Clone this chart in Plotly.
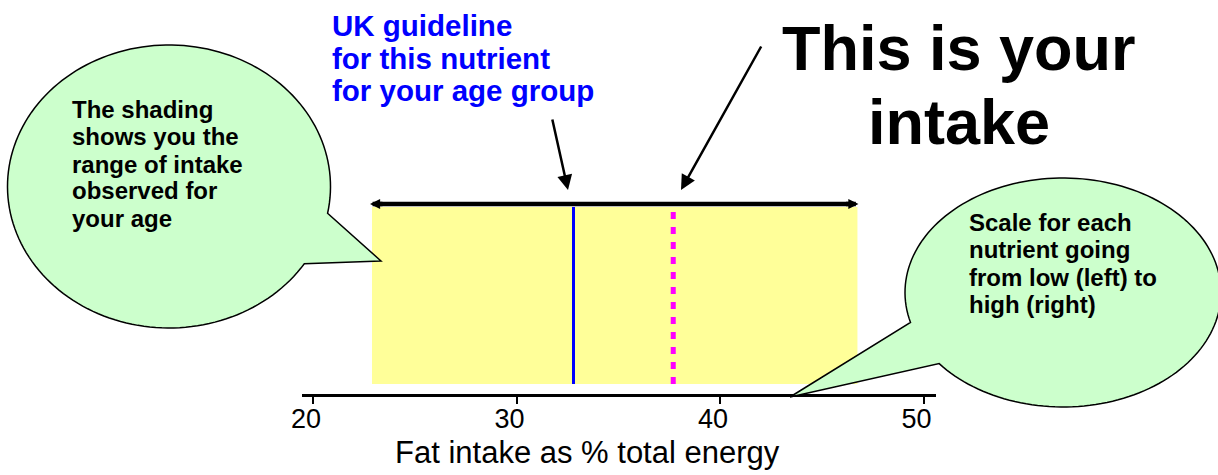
import numpy as np
import plotly.graph_objects as go

# ---------------- data ----------------
x_ticks = [20, 30, 40, 50]
tick_labels = ["20", "30", "40", "50"]
x_range = [19.46, 50.61]
observed_range = [22.9, 46.75]     # shaded range of intake observed
guideline = 32.8                   # UK guideline
intake = 37.7                      # your intake
x_title = "Fat intake as % total energy"
guideline_lines = ["UK guideline", "for this nutrient", "for your age group"]
intake_lines = ["This is your", "intake"]
left_bubble_lines = ["The shading", "shows you the", "range of intake", "observed for", "your age"]
right_bubble_lines = ["Scale for each", "nutrient going", "from low (left) to", "high (right)"]

# ---------------- layout geometry (pixels) ----------------
W, H = 1218, 475
ML, MR, MT, MB = 302, 282, 0, 81
PW = W - ML - MR
PH = H - MT - MB

def px(xp):
    return (xp - ML) / PW

def py(yp):
    return (H - MB - yp) / PH

def yd(yp):
    return (H - MB - yp)

FONT = "Liberation Sans, Arial, sans-serif"

band_bottom, band_top, arrow_y = yd(384), yd(207), yd(204)

fig = go.Figure()

# guideline line
fig.add_trace(go.Scatter(x=[guideline, guideline], y=[band_bottom, band_top],
                         mode="lines", line=dict(color="#0000FF", width=3),
                         hoverinfo="skip", showlegend=False))
# intake line
fig.add_trace(go.Scatter(x=[intake, intake], y=[band_bottom, band_top],
                         mode="lines", line=dict(color="#FF00FF", width=5, dash="7px,8px"),
                         hoverinfo="skip", showlegend=False))

shapes = [dict(type="rect", xref="x", yref="y", x0=observed_range[0], x1=observed_range[1],
               y0=band_bottom, y1=band_top, fillcolor="#FFFF99", line=dict(width=0), layer="below"),
          # shaft of the double-headed range arrow
          dict(type="line", xref="x", yref="y", x0=observed_range[0] + 0.3, x1=observed_range[1] - 0.3,
               y0=arrow_y, y1=arrow_y, line=dict(color="black", width=4.5), layer="above")]


def bubble(cx, cy, rx, ry, a, b, tip, n=160):
    ta = np.arctan2((a[1] - cy) / ry, (a[0] - cx) / rx)
    tb = np.arctan2((b[1] - cy) / ry, (b[0] - cx) / rx)
    if tb < ta:
        tb += 2 * np.pi
    t = np.linspace(tb, ta + 2 * np.pi, n)
    xs = cx + rx * np.cos(t)
    ys = cy + ry * np.sin(t)
    pts = [(tip[0], tip[1])] + list(zip(xs, ys))
    return "M" + " L".join(f"{px(xx):.5f},{py(yy):.5f}" for xx, yy in pts) + " Z"


def bubble2(cx, cy, rx, ry, a, b, tip, n=160):
    ta = np.arctan2((a[1] - cy) / ry, (a[0] - cx) / rx)
    tb = np.arctan2((b[1] - cy) / ry, (b[0] - cx) / rx)
    while tb < ta:
        tb += 2 * np.pi
    t = np.linspace(ta, tb, n)
    xs = cx + rx * np.cos(t)
    ys = cy + ry * np.sin(t)
    pts = [(tip[0], tip[1])] + list(zip(xs, ys))
    return "M" + " L".join(f"{px(xx):.5f},{py(yy):.5f}" for xx, yy in pts) + " Z"


left_path = bubble(169, 186.5, 161.5, 141.5, a=(326, 213), b=(303, 263), tip=(381, 261))
right_path = bubble2(1063, 292.5, 158, 114.5, a=(913, 322), b=(942, 362), tip=(790, 397))

for p in (left_path, right_path):
    shapes.append(dict(type="path", xref="paper", yref="paper", path=p,
                       fillcolor="#CCFFCC", line=dict(color="black", width=1.5), layer="above"))

ann = []
# heads of the double-headed range arrow
ann.append(dict(x=observed_range[0] - 0.1, y=arrow_y, xref="x", yref="y", ax=14, ay=0,
                text="", showarrow=True, arrowhead=2, arrowsize=0.45, arrowwidth=4.5,
                arrowcolor="black"))
ann.append(dict(x=observed_range[1] + 0.05, y=arrow_y, xref="x", yref="y", ax=-14, ay=0,
                text="", showarrow=True, arrowhead=2, arrowsize=0.45, arrowwidth=4.5,
                arrowcolor="black"))

# callout arrows
ann.append(dict(x=px(568), y=py(190), xref="paper", yref="paper", ax=-16, ay=-72,
                text="", showarrow=True, arrowhead=2, arrowsize=1.2, arrowwidth=2.5,
                arrowcolor="black"))
ann.append(dict(x=px(681), y=py(190), xref="paper", yref="paper", ax=81, ay=-145,
                text="", showarrow=True, arrowhead=2, arrowsize=1.2, arrowwidth=2.5,
                arrowcolor="black"))

# blue guideline text
for txt, yy in zip(guideline_lines, [26, 58.5, 91]):
    ann.append(dict(x=px(330), y=py(yy), xref="paper", yref="paper", text=txt,
                    showarrow=False, xanchor="left", yanchor="middle",
                    font=dict(family=FONT, size=29.5, color="#0000FF", weight="bold")))

# big intake text
for txt, yy in zip(intake_lines, [48, 122]):
    ann.append(dict(x=px(959), y=py(yy), xref="paper", yref="paper", text=txt,
                    showarrow=False, xanchor="center", yanchor="middle",
                    font=dict(family=FONT, size=63, color="black", weight="bold")))

# bubble texts
for txt, yy in zip(left_bubble_lines, [109, 136, 164, 191, 218]):
    ann.append(dict(x=px(70), y=py(yy), xref="paper", yref="paper", text=txt,
                    showarrow=False, xanchor="left", yanchor="middle",
                    font=dict(family=FONT, size=24, color="black", weight="bold")))
for txt, yy in zip(right_bubble_lines, [222, 249.5, 277, 304]):
    ann.append(dict(x=px(967), y=py(yy), xref="paper", yref="paper", text=txt,
                    showarrow=False, xanchor="left", yanchor="middle",
                    font=dict(family=FONT, size=24, color="black", weight="bold")))

# axis title
ann.append(dict(x=px(587), y=py(452), xref="paper", yref="paper", text=x_title,
                showarrow=False, xanchor="center", yanchor="middle",
                font=dict(family=FONT, size=31, color="black")))

fig.update_layout(
    width=W, height=H,
    margin=dict(l=ML, r=MR, t=MT, b=MB, pad=0),
    paper_bgcolor="white", plot_bgcolor="white",
    shapes=shapes, annotations=ann, showlegend=False,
    xaxis=dict(range=x_range, tickvals=x_ticks, ticktext=tick_labels,
               ticks="outside", ticklen=7, tickwidth=1.5, tickcolor="black",
               showline=True, linewidth=2.5, linecolor="black",
               showgrid=False, zeroline=False, ticklabelshift=-7, ticklabelstandoff=-8,
               tickfont=dict(family=FONT, size=27, color="black"), fixedrange=True),
    yaxis=dict(range=[0, PH], visible=False, fixedrange=True),
)

fig.write_html("out.html", config={"displayModeBar": False},
               post_script="document.body.style.margin='0';document.body.style.overflow='hidden';")
